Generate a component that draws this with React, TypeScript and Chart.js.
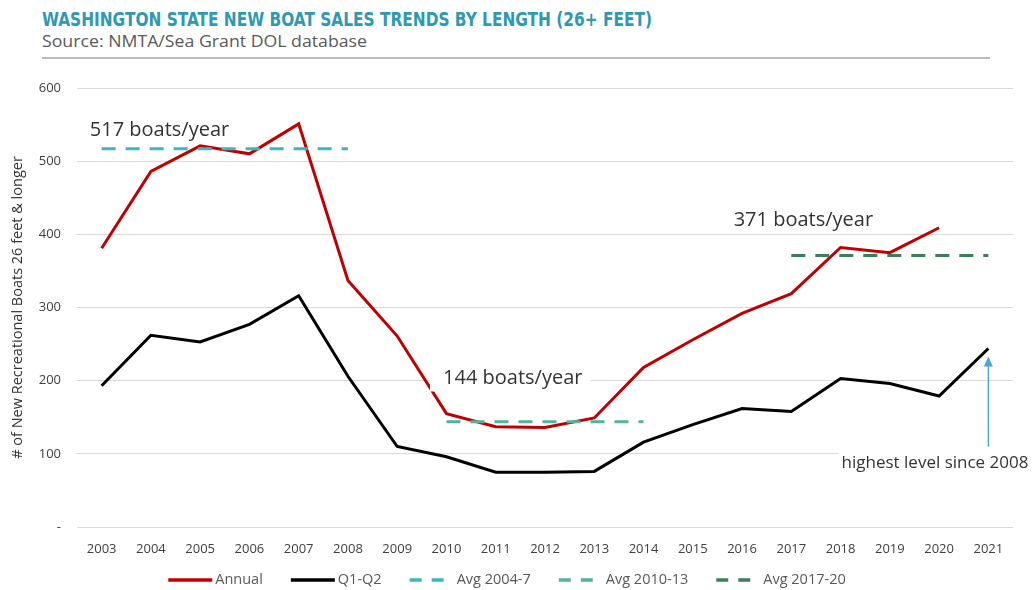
import React, { useEffect, useRef } from "react";
import { Chart, registerables } from "chart.js";

Chart.register(...registerables);

// ---------- data ----------
const years = [
  "2003", "2004", "2005", "2006", "2007", "2008", "2009", "2010", "2011", "2012",
  "2013", "2014", "2015", "2016", "2017", "2018", "2019", "2020", "2021",
];
const annual = [381, 486, 521, 510, 551, 337, 261, 155, 137, 136, 149, 218, 256, 292, 319, 382, 375, 409, null];
const q1q2 = [193, 262, 253, 277, 316, 206, 110, 96, 75, 75, 76, 116, 140, 162, 158, 203, 196, 179, 244];
const avg0407 = [517, 517, 517, 517, 517, 517, null, null, null, null, null, null, null, null, null, null, null, null, null];
const avg1013 = [null, null, null, null, null, null, null, 144, 144, 144, 144, 144, null, null, null, null, null, null, null];
const avg1720 = [null, null, null, null, null, null, null, null, null, null, null, null, null, null, 371, 371, 371, 371, 371];

const yMin = 0;
const yMax = 600;
const yStep = 100;

const seriesNames = ["Annual", "Q1-Q2", "Avg 2004-7", "Avg 2010-13", "Avg 2017-20"];

// annotation texts, anchored in data units (category index, value)
const notes = [
  { text: "517 boats/year", at: -0.24, value: 542, size: 20, padL: 4, padR: 4 },
  { text: "144 boats/year", at: 6.93, value: 203, size: 20, padL: 13, padR: 8 },
  { text: "371 boats/year", at: 12.83, value: 419, size: 20, padL: 4, padR: 4 },
  { text: "highest level since 2008", at: 15.02, value: 87, size: 17, padL: 3, padR: 3 },
];
const arrowNote = { at: 18, from: 110, to: 233 };

const FONT = "'Open Sans', 'DejaVu Sans', sans-serif";

const notesPlugin = {
  id: "notes",
  afterDatasetsDraw(chart: any) {
    const { ctx, scales } = chart;
    const x = scales.x;
    const y = scales.y;
    const px = (i: number) => x.getPixelForValue(0) + i * (x.getPixelForValue(1) - x.getPixelForValue(0));
    ctx.save();
    for (const n of notes) {
      ctx.font = `${n.size}px ${FONT}`;
      ctx.textBaseline = "middle";
      ctx.textAlign = "left";
      const w = ctx.measureText(n.text).width;
      const lx = px(n.at);
      const ly = y.getPixelForValue(n.value);
      const h = n.size * 1.1;
      ctx.fillStyle = "#ffffff";
      ctx.fillRect(lx - n.padL, ly - h / 2 - 2, w + n.padL + n.padR, h + 4);
      ctx.fillStyle = "#333333";
      ctx.fillText(n.text, lx, ly);
    }
    // arrow
    const ax = px(arrowNote.at);
    const y0 = y.getPixelForValue(arrowNote.from);
    const y1 = y.getPixelForValue(arrowNote.to);
    ctx.strokeStyle = "#4da6d3";
    ctx.fillStyle = "#4da6d3";
    ctx.lineWidth = 1.5;
    ctx.beginPath();
    ctx.moveTo(ax, y0);
    ctx.lineTo(ax, y1 + 8);
    ctx.stroke();
    ctx.beginPath();
    ctx.moveTo(ax, y1);
    ctx.lineTo(ax - 4.5, y1 + 10);
    ctx.lineTo(ax + 4.5, y1 + 10);
    ctx.closePath();
    ctx.fill();
    ctx.restore();
  },
};

const legendPlugin = {
  id: "customLegend",
  afterDraw(chart: any) {
    const { ctx, chartArea } = chart;
    const symW = 44;
    const gap = 3;
    const spacing = 28;
    ctx.save();
    ctx.font = `14.5px ${FONT}`;
    const items = chart.data.datasets.map((ds: any) => ({
      label: ds.label as string,
      color: ds.borderColor as string,
      dashed: !!ds.borderDash,
      w: ctx.measureText(ds.label).width,
    }));
    const total =
      items.reduce((s: number, it: any) => s + symW + gap + it.w, 0) + spacing * (items.length - 1);
    let x = chart.width / 2 - 10 - total / 2;
    const y = chartArea.bottom + 53;
    ctx.textBaseline = "middle";
    ctx.textAlign = "left";
    for (const it of items) {
      ctx.strokeStyle = it.color;
      ctx.lineWidth = 3.5;
      ctx.lineCap = "butt";
      ctx.setLineDash(it.dashed ? [12, 10] : []);
      ctx.beginPath();
      ctx.moveTo(x, y);
      ctx.lineTo(x + symW, y);
      ctx.stroke();
      ctx.setLineDash([]);
      ctx.fillStyle = "#595959";
      ctx.fillText(it.label, x + symW + gap, y);
      x += symW + gap + it.w + spacing;
    }
    ctx.restore();
  },
};

export default function App() {
  const canvasRef = useRef<HTMLCanvasElement | null>(null);

  useEffect(() => {
    if (!canvasRef.current) return;
    const dash = [14, 10];
    const chart = new Chart(canvasRef.current, {
      type: "line",
      data: {
        labels: years,
        datasets: [
          { label: seriesNames[0], data: annual, borderColor: "#c00000", backgroundColor: "#c00000", borderWidth: 3, pointRadius: 0, order: 3, spanGaps: false },
          { label: seriesNames[1], data: q1q2, borderColor: "#000000", backgroundColor: "#000000", borderWidth: 3, pointRadius: 0, order: 4 },
          { label: seriesNames[2], data: avg0407, borderColor: "#3cb6c2", backgroundColor: "#3cb6c2", borderWidth: 3, borderDash: dash, pointRadius: 0, order: 0 },
          { label: seriesNames[3], data: avg1013, borderColor: "#4fb39d", backgroundColor: "#4fb39d", borderWidth: 3, borderDash: dash, pointRadius: 0, order: 1 },
          { label: seriesNames[4], data: avg1720, borderColor: "#3b7f5b", backgroundColor: "#3b7f5b", borderWidth: 3, borderDash: dash, pointRadius: 0, order: 2 },
        ],
      },
      options: {
        animation: false,
        responsive: false,
        maintainAspectRatio: false,
        devicePixelRatio: 1,
        layout: { padding: { top: 88, right: 21, left: 6, bottom: 25 } },
        elements: { line: { tension: 0, borderCapStyle: "butt", borderJoinStyle: "miter" } },
        plugins: {
          tooltip: { enabled: false },
          legend: { display: false },
        },
        scales: {
          x: {
            offset: true,
            grid: { display: false, drawTicks: false },
            border: { display: false },
            ticks: { font: { family: FONT, size: 13 }, color: "#404040", padding: 14, maxRotation: 0, autoSkip: false },
            afterFit: (s: any) => { s.height = 38; },
          },
          y: {
            min: yMin,
            max: yMax,
            grid: { color: "#d9d9d9", lineWidth: 1, drawTicks: false },
            border: { display: false },
            ticks: {
              stepSize: yStep,
              font: { family: FONT, size: 13 },
              color: "#404040",
              padding: 16,
              callback: (v: any) => (Number(v) === 0 ? "-" : String(v)),
            },
            title: {
              display: true,
              text: "# of New Recreational Boats 26 feet & longer",
              font: { family: FONT, size: 14.5 },
              color: "#333333",
              padding: { top: 3, bottom: 3 },
            },
            afterFit: (s: any) => { s.width = 71; },
          },
        },
      },
      plugins: [notesPlugin, legendPlugin],
    });
    return () => chart.destroy();
  }, []);

  return (
    <div style={{ position: "absolute", left: 0, top: 0, width: 1034, height: 590, background: "#ffffff" }}>
      <svg width={1034} height={70} style={{ position: "absolute", left: 0, top: 0 }}>
        <text
          x={42}
          y={26}
          fontFamily="'Liberation Sans Narrow', 'DejaVu Sans Condensed', 'Liberation Sans', sans-serif"
          fontWeight={700}
          fontSize={19}
          fill="#2e99b3"
          textLength={610}
          lengthAdjust="spacingAndGlyphs"
        >
          WASHINGTON STATE NEW BOAT SALES TRENDS BY LENGTH (26+ FEET)
        </text>
        <text
          x={42}
          y={47}
          fontFamily={FONT}
          fontSize={16.5}
          fill="#595959"
          textLength={325}
          lengthAdjust="spacingAndGlyphs"
        >
          Source: NMTA/Sea Grant DOL database
        </text>
        <line x1={42} y1={58} x2={990} y2={58} stroke="#a6a6a6" strokeWidth={1.5} />
      </svg>
      <canvas ref={canvasRef} width={1034} height={590} style={{ position: "absolute", left: 0, top: 0 }} />
    </div>
  );
}
